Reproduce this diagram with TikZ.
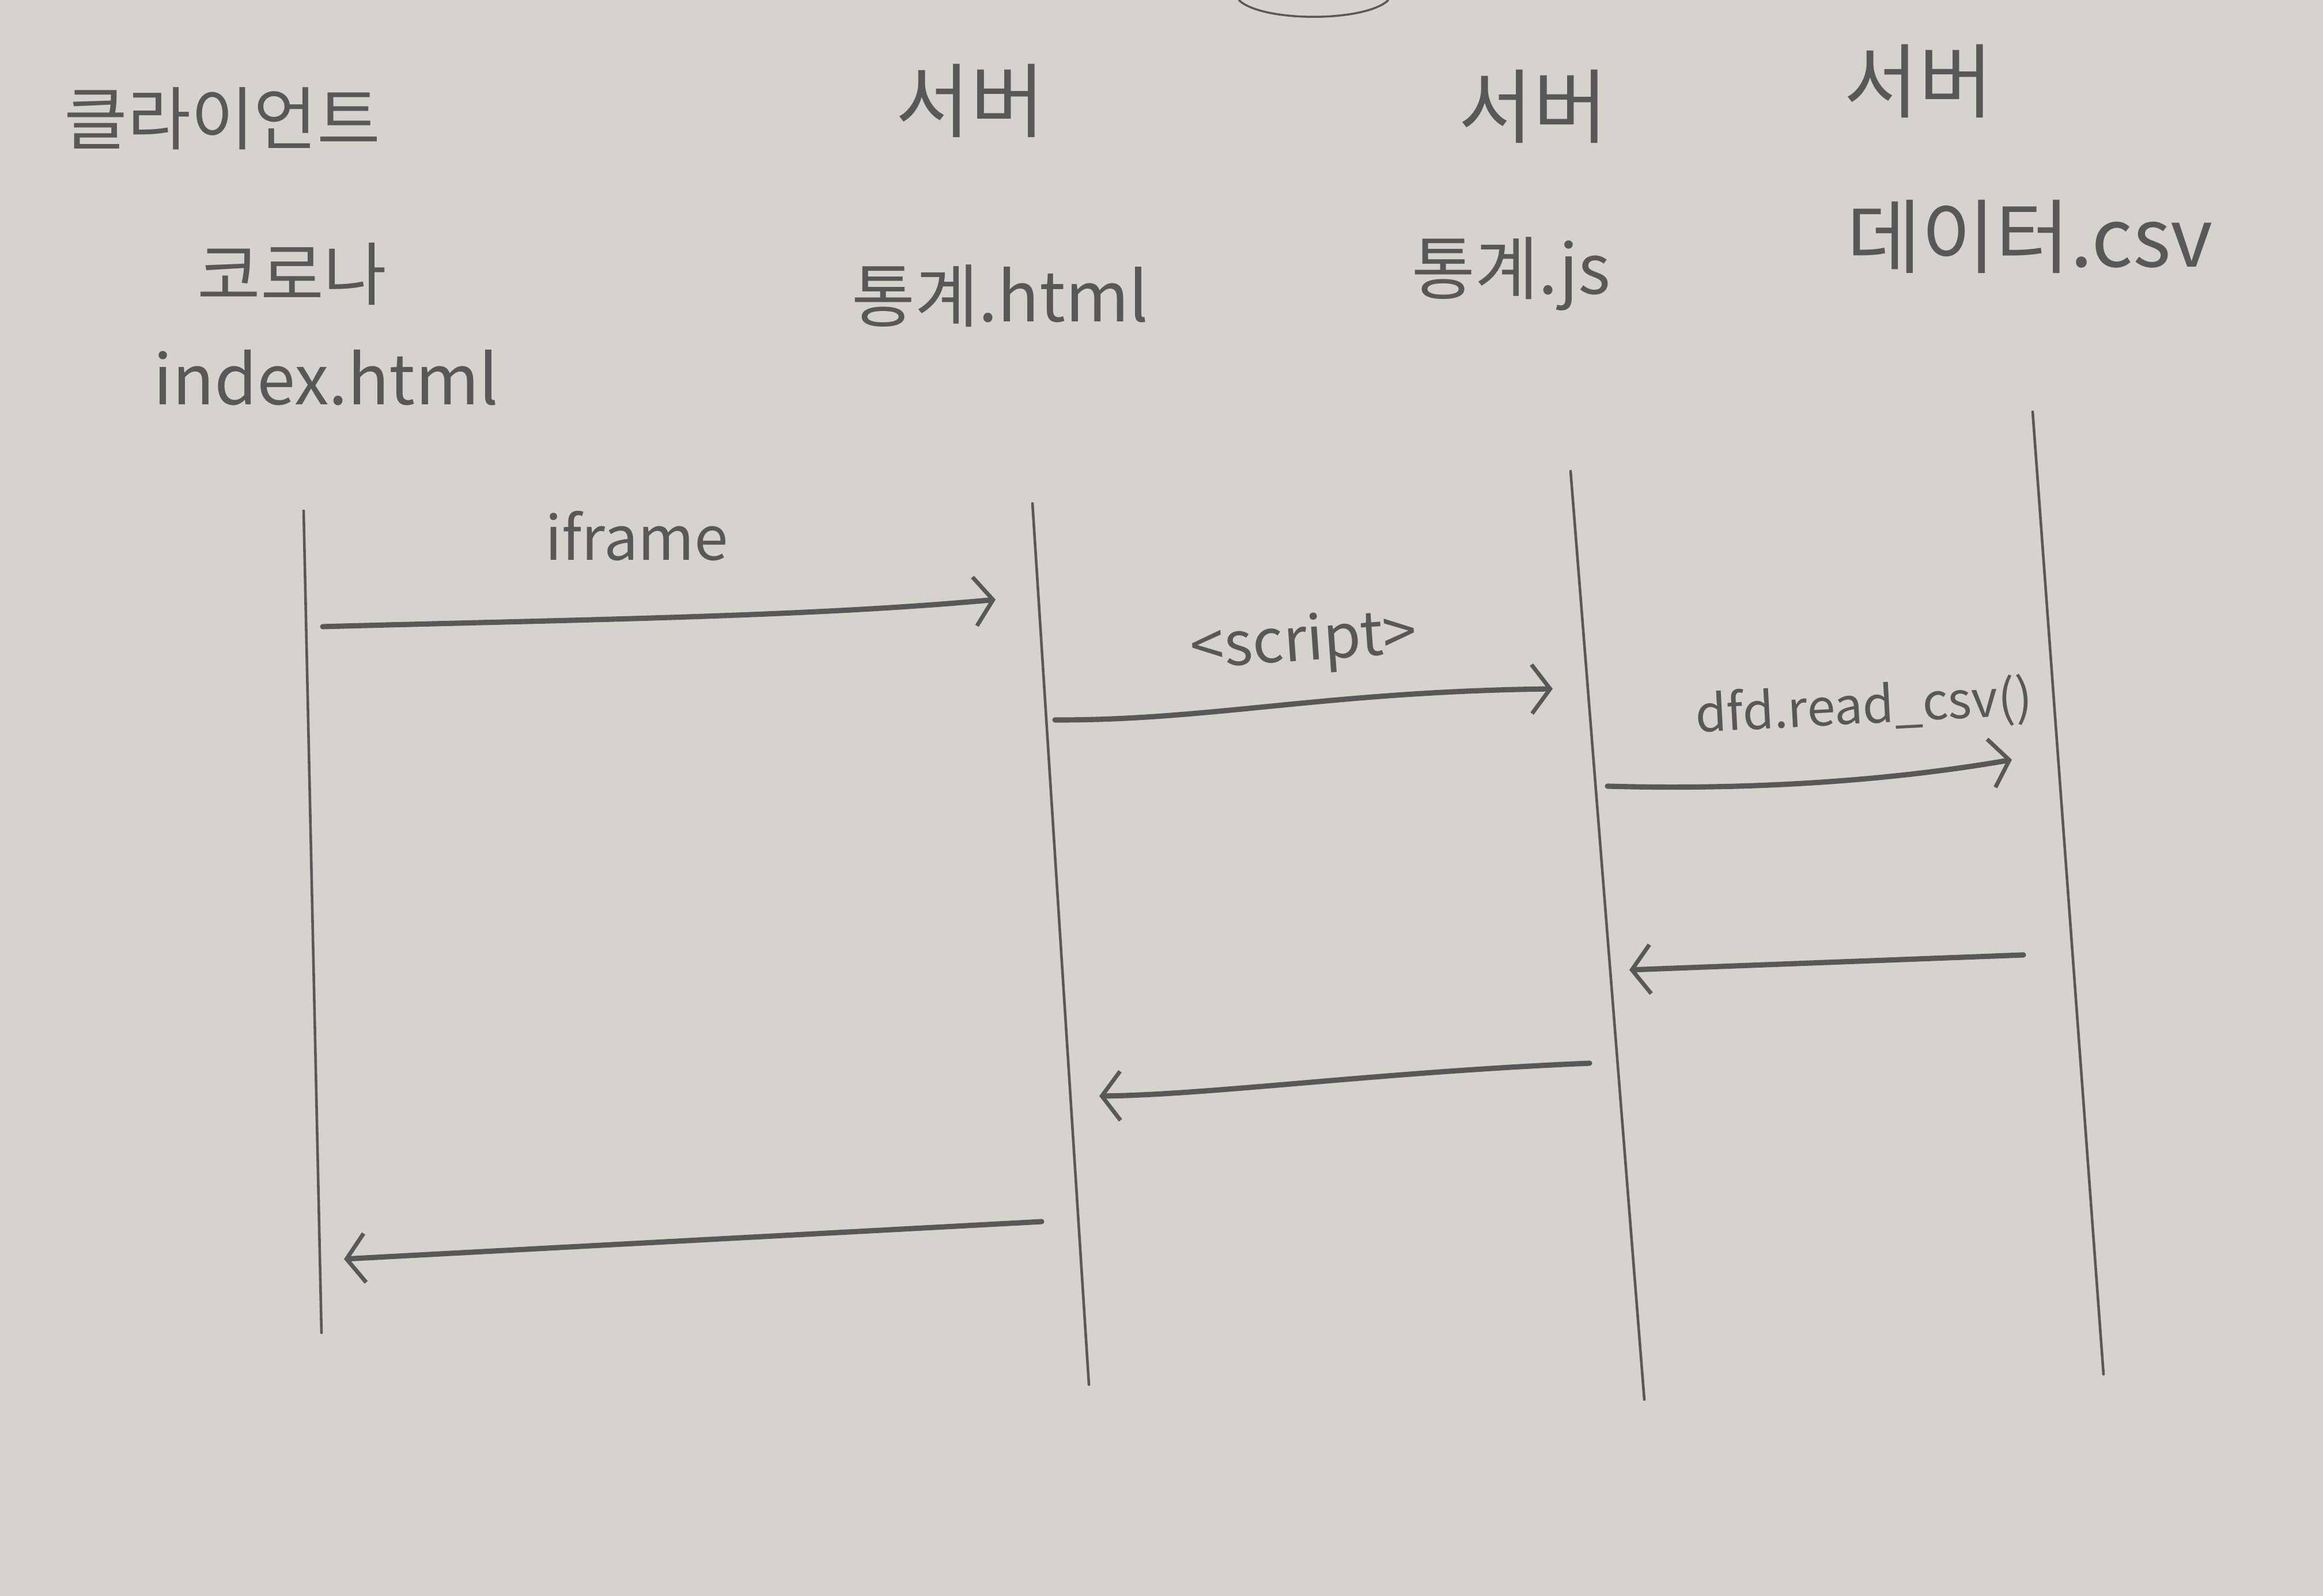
\documentclass[tikz,border=0pt]{standalone}
\usepackage{fontspec}
\setmainfont{Noto Sans CJK KR}
\usetikzlibrary{arrows.meta}
\usepackage{xcolor}

\definecolor{paper}{RGB}{214,211,206}
\definecolor{ink}{RGB}{88,88,88}

\tikzset{
  hdr/.style={text=ink,font=\fontsize{34}{40}\selectfont,inner sep=0pt},
  bighdr/.style={hdr,font=\fontsize{40}{46}\selectfont},
  lbl/.style={text=ink,font=\fontsize{30}{34}\selectfont,inner sep=0pt},
  lifeline/.style={draw=ink,line width=1.3pt,line cap=round},
  msg/.style={draw=ink,line width=2.6pt,line cap=round,
    -{Straight Barb[length=3.2mm,width=8.5mm,line width=2pt]}},
}

\begin{document}
\begin{tikzpicture}

% paper
\fill[paper] (0,0) rectangle (40.32,27.71);
\useasboundingbox (0,0) rectangle (40.32,27.71);

% edge of something at the top of the page
\draw[ink,line width=1pt] (21.5,27.71) .. controls (21.9,27.32) and (23.7,27.32) .. (24.1,27.71);

% headers
\node[hdr] (client)  at (3.86,25.65) {클라이언트};
\node[hdr] (corona)  at (5.07,22.95) {코로나};
\node[hdr] (index)   at (5.66,21.15) {index.html};

\node[bighdr] (srva)    at (16.84,25.96) {서버};
\node[hdr] (stathtml) at (17.36,22.57) {통계.html};

\node[bighdr] (srvb)    at (26.61,25.86) {서버};
\node[hdr] (statjs)  at (26.23,22.95) {통계.js};

\node[bighdr] (srvc)    at (33.30,26.30) {서버};
\node[bighdr] (datacsv) at (35.23,23.60) {데이터.csv};

% lifelines
\coordinate (ltop) at (5.27,18.84);  \coordinate (lbot) at (5.58,4.57);
\coordinate (htop) at (17.92,18.97); \coordinate (hbot) at (18.90,3.67);
\coordinate (jtop) at (27.26,19.53); \coordinate (jbot) at (28.54,3.41);
\coordinate (ctop) at (35.28,20.56); \coordinate (cbot) at (36.51,3.85);

\draw[lifeline] (ltop) -- (lbot);
\draw[lifeline] (htop) -- (hbot);
\draw[lifeline] (jtop) -- (jbot);
\draw[lifeline] (ctop) -- (cbot);

% requests
\coordinate (a1) at (5.60,16.83);  \coordinate (b1) at (17.28,17.30);
\coordinate (a2) at (18.31,15.21); \coordinate (b2) at (26.95,15.75);
\coordinate (a3) at (27.90,14.06); \coordinate (b3) at (34.92,14.52);

\draw[msg] (a1) .. controls (10,16.95) and (14,17.0) .. (b1);
\draw[msg] (a2) .. controls (21,15.2) and (23,15.7) .. (b2);
\draw[msg] (a3) .. controls (30,14.0) and (32.5,14.1) .. (b3);

\node[lbl] (iframe) at (11.05,18.40) {iframe};
\node[lbl,rotate=4] (script) at (22.63,16.53) {<script>};
\node[lbl,rotate=3,font=\fontsize{25}{29}\selectfont] (readcsv) at (32.35,15.42) {dfd.read\_csv()};

% responses
\coordinate (a4) at (35.12,11.13); \coordinate (b4) at (28.28,10.87);
\coordinate (a5) at (27.59,9.25);  \coordinate (b5) at (19.08,8.68);
\coordinate (a6) at (18.08,6.50);  \coordinate (b6) at (5.97,5.85);

\draw[msg] (a4) -- (b4);
\draw[msg] (a5) .. controls (24,9.1) and (21,8.7) .. (b5);
\draw[msg] (a6) -- (b6);

\end{tikzpicture}
\end{document}
